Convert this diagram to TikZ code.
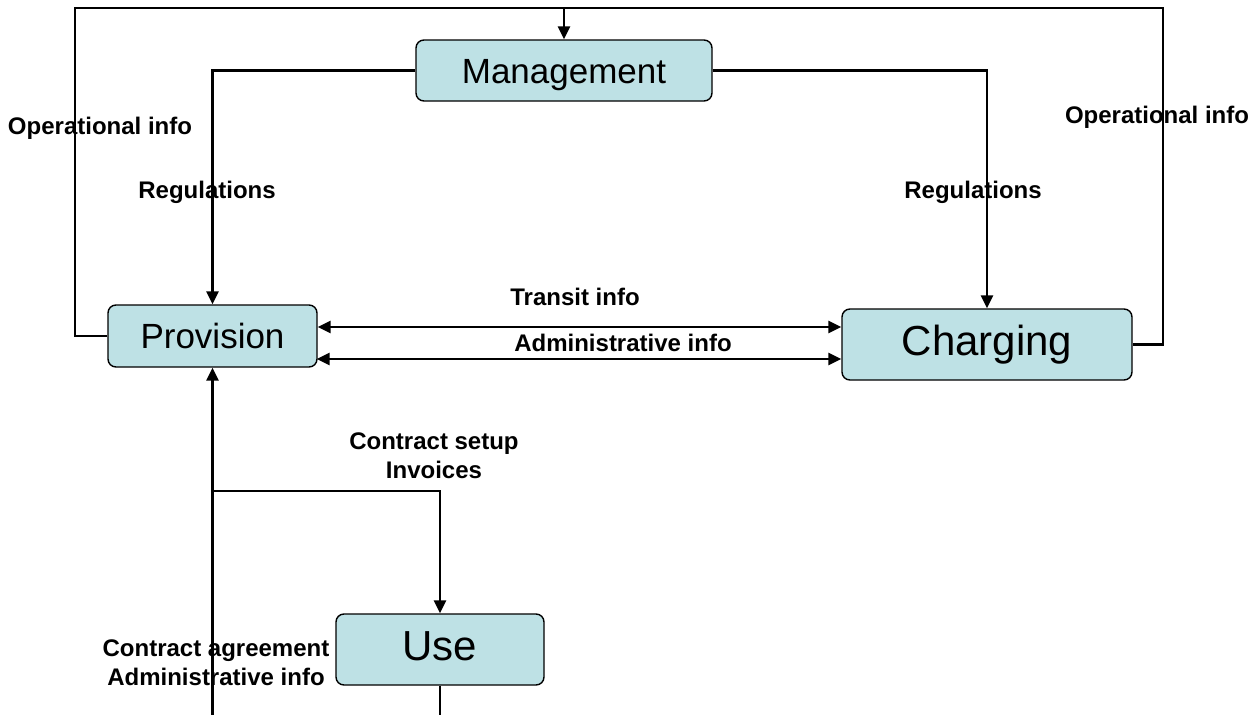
\documentclass[tikz,border=0pt]{standalone}
\usepackage{fontspec}
\setmainfont{Liberation Sans}
\usetikzlibrary{arrows.meta}
\definecolor{boxfill}{RGB}{190,225,229}
\begin{document}
\begin{tikzpicture}[x=1pt,y=-1pt,
  block/.style={draw=black, line width=1.4pt, fill=boxfill, rounded corners=8pt, inner sep=0pt},
  conn/.style={line width=2.6pt, draw=black},
  tip/.style={-{Triangle[length=13pt,width=12pt]}},
  twotip/.style={{Triangle[length=13pt,width=12pt]}-{Triangle[length=13pt,width=12pt]}},
  lbl/.style={font=\fontsize{24}{29}\selectfont\bfseries, inner sep=0pt, align=center}]
\useasboundingbox (0,0) rectangle (1256,715);

% blocks
\node[block, minimum width=296pt, minimum height=61pt, font=\fontsize{35}{40}\selectfont,
      text height=25pt, text depth=0pt] (mgmt) at (564,70.5) {Management};
\node[block, minimum width=209pt, minimum height=62pt, font=\fontsize{35}{40}\selectfont,
      text height=25pt, text depth=0pt] (prov) at (212.5,336) {Provision};
\node[block, minimum width=290pt, minimum height=71pt, font=\fontsize{42}{48}\selectfont,
      text height=30pt, text depth=9pt] (charg) at (987,344.5) {Charging};
\node[block, minimum width=208pt, minimum height=71pt, font=\fontsize{42}{48}\selectfont,
      text height=30pt, text depth=9pt] (use) at (440,649.5) {Use};

% helper points
\coordinate (topL) at (75,8);
\coordinate (topR) at (1163,8);
\coordinate (transitY) at (0,327);
\coordinate (adminY) at (0,359);
\coordinate (split) at (212.5,491);
\coordinate (provIn) at (212.5,715);
\coordinate (useOut) at (440,715);

% labels
\node[lbl] (opL) at (100,128) {Operational info};
\node[lbl] (opR) at (1157,117) {Operational info};
\node[lbl] (regL) at (207,192) {Regulations};
\node[lbl] (regR) at (973,192) {Regulations};
\node[lbl] (transit) at (575,297) {Transit info};
\node[lbl] (admin) at (623,343) {Administrative info};
\node[lbl] (setup) at (434,456) {Contract setup\\Invoices};
\node[lbl] (agree) at (216,663) {Contract agreement\\Administrative info};

% connectors
\draw[conn] (prov.west) -| (topL) -- (topR) |- (charg.east);
\draw[conn,tip] (mgmt.north |- topL) -- (mgmt.north);
\draw[conn,tip] (mgmt.west) -| (prov.north);
\draw[conn,tip] (mgmt.east) -| (charg.north);
\draw[conn,twotip] (prov.east |- transitY) -- (charg.west |- transitY);
\draw[conn,twotip] ([xshift=-1pt]prov.east |- adminY) -- (charg.west |- adminY);
\draw[conn,tip] (split) -| (use.north);
\draw[conn,tip] (provIn) -- (prov.south);
\draw[conn] (use.south) -- (useOut);
\end{tikzpicture}
\end{document}
